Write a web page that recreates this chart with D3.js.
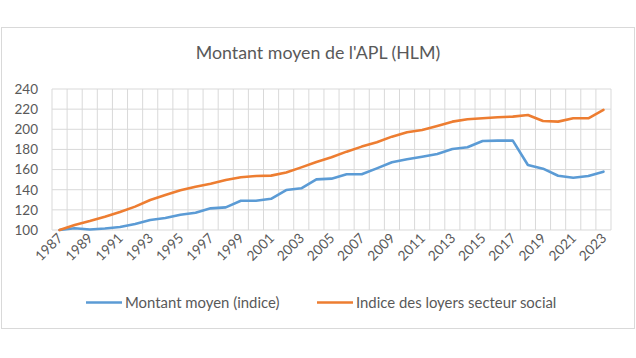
<!DOCTYPE html>
<html><head><meta charset="utf-8">
<script src="https://cdn.jsdelivr.net/npm/d3@7"></script>
<style>body{margin:0;background:#fff}svg{display:block}text{font-family:Lato,"Open Sans",sans-serif;fill:#595959}</style>
</head><body>
<svg id="c" width="636" height="358"></svg>
<script>
const years = d3.range(1987, 2024).map(String);
const montantMoyen = [100,101.7,100.5,101.5,103,106,110,112,115.2,117.2,121.5,122.5,129,129,131,139.7,141.4,150.3,151,155.3,155.3,161.2,167.2,170.2,172.8,175.5,180.4,182.1,188.4,188.7,188.7,164.5,160.9,153.9,151.9,153.6,157.9];
const indiceLoyers = [100,105,108.9,113.2,117.9,123.2,129.8,134.8,139.4,143,146,149.7,152.3,153.6,154,157,162.2,167.6,172.2,177.8,182.8,187.1,192.7,197,199.3,203.3,207.6,209.9,210.9,211.9,212.6,214.2,208.2,207.6,210.9,210.9,219.2];
const yTicks = [100,120,140,160,180,200,220,240];
const xTickLabels = years.filter((d,i)=>i%2===0);
const seriesNames = ["Montant moyen (indice)", "Indice des loyers secteur social"];
const colors = ["#5b9bd5", "#ed7d31"];
const title = "Montant moyen de l'APL (HLM)";

const svg = d3.select("#c");
svg.append("rect").attr("x",1.5).attr("y",27.5).attr("width",633).attr("height",301)
  .attr("fill","#fff").attr("stroke","#d9d9d9");

const x = d3.scaleBand().domain(years).range([52,611]);
const y = d3.scaleLinear().domain([100,240]).range([230,89]);

// grid
const g = svg.append("g");
g.selectAll("line.h").data(yTicks).join("line")
  .attr("x1",52).attr("x2",611).attr("y1",d=>y(d)).attr("y2",d=>y(d))
  .attr("stroke","#d9d9d9").attr("stroke-width",1);
const bounds = years.map(d=>x(d)).concat([x.range()[1]]);
g.selectAll("line.v").data(bounds).join("line")
  .attr("x1",d=>d).attr("x2",d=>d).attr("y1",y(240)).attr("y2",y(100))
  .attr("stroke","#d9d9d9").attr("stroke-width",1);

// y labels
svg.append("g").selectAll("text").data(yTicks).join("text")
  .attr("x",38).attr("y",d=>y(d)+4.8).attr("text-anchor","end")
  .attr("font-size",13.5).text(d=>d);

// x labels
svg.append("g").selectAll("text").data(xTickLabels).join("text")
  .attr("transform",d=>`translate(${x(d)+x.bandwidth()/2+4},${239}) rotate(-45)`)
  .attr("text-anchor","end").attr("font-size",13.8).text(d=>d);

// lines
const line = d3.line().x((d,i)=>x(years[i])+x.bandwidth()/2).y(d=>y(d));
[montantMoyen, indiceLoyers].forEach((s,k)=>{
  svg.append("path").datum(s).attr("d",line).attr("fill","none")
    .attr("stroke",colors[k]).attr("stroke-width",2.6).attr("stroke-linejoin","round").attr("stroke-linecap","round");
});

// title
svg.append("text").attr("x",318).attr("y",59).attr("text-anchor","middle")
  .attr("font-size",17.8).text(title);

// legend
const legX = [86, 317];
seriesNames.forEach((n,k)=>{
  svg.append("line").attr("x1",legX[k]).attr("x2",legX[k]+36).attr("y1",302.5).attr("y2",302.5)
    .attr("stroke",colors[k]).attr("stroke-width",2.6);
  svg.append("text").attr("x",legX[k]+39).attr("y",307.5).attr("font-size",14.9).text(n);
});
</script>
</body></html>
